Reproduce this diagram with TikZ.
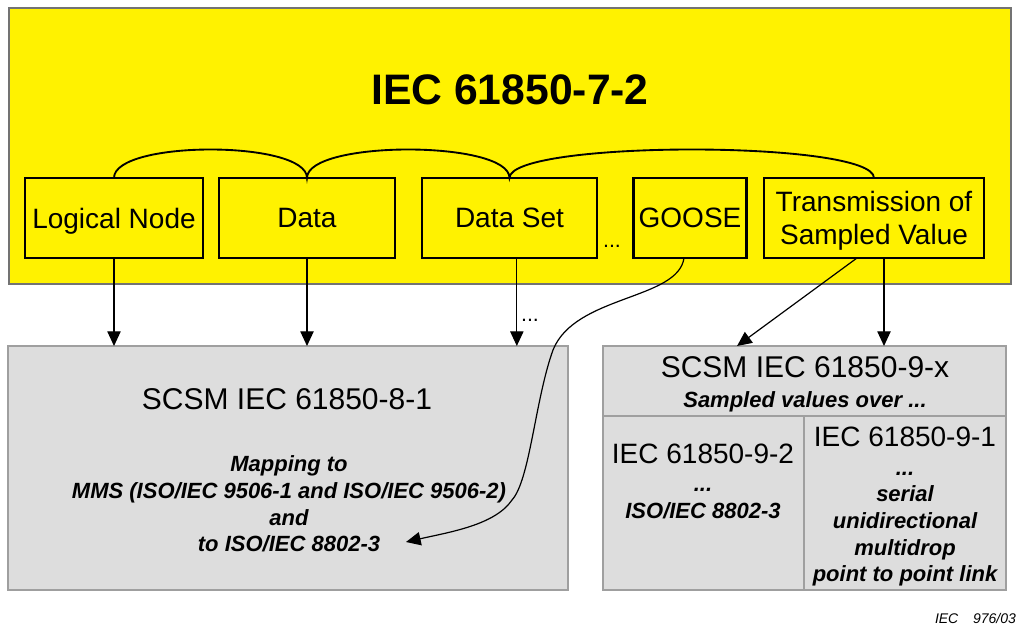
\documentclass[tikz,border=0pt]{standalone}
\usepackage{fontspec}
\setmainfont{Liberation Sans}
\usetikzlibrary{arrows.meta}

\begin{document}
\begin{tikzpicture}[
    x=0.75pt, y=-0.75pt,
    every node/.style  = {inner sep=0pt, outer sep=0pt},
    layer/.style       = {draw=gray!90!black, line width=1pt, fill=yellow},
    servbox/.style     = {draw=black, line width=2pt, fill=yellow, align=center, text depth=0pt,
                          font=\fontsize{21}{25}\selectfont},
    scsm/.style        = {draw=gray!75, line width=1.4pt, fill=gray!27},
    big/.style         = {font=\fontsize{22.5}{27}\selectfont},
    mid/.style         = {font=\fontsize{21}{25}\selectfont},
    note/.style        = {font=\fontsize{16.5}{20}\selectfont\bfseries\itshape, align=center},
    dots/.style        = {font=\fontsize{16}{20}\selectfont},
    map/.style         = {-{Triangle[length=11pt,width=10pt]}, line width=0.9pt}
    ]
  \useasboundingbox (0,0) rectangle (1021,627);

  % IEC 61850-7-2 layer ----------------------------------------
  \node[layer, minimum width=751.5pt, minimum height=207pt] (iec72) at (510,146) {};
  \node[font=\fontsize{32}{38}\selectfont\bfseries, anchor=base] (title) at (510,105) {IEC 61850-7-2};

  \node[servbox, minimum width=133.5pt, minimum height=60pt] (ln)    at (114,218)   {Logical Node};
  \node[servbox, minimum width=132pt,   minimum height=60pt] (data)  at (307,218)   {Data};
  \node[servbox, minimum width=131.25pt,minimum height=60pt] (dset)  at (509.5,218) {Data Set};
  \node[servbox, minimum width=85pt,    minimum height=60pt] (goose) at (690,218)   {GOOSE};
  \node[servbox, minimum width=165pt,   minimum height=60pt] (trans) at (874,218)   {Transmission of\\Sampled Value};
  \node[dots, anchor=base] (more) at (612,248) {...};

  \draw[line width=1.4pt] (ln.north) .. controls +(0,-38) and +(0,-38) .. (data.north)
                                     .. controls +(0,-38) and +(0,-38) .. (dset.north)
                                     .. controls +(0,-38) and +(0,-38) .. (trans.north);

  % SCSM 8-1 -----------------------------------------------------
  \node[scsm, minimum width=420pt, minimum height=183pt] (scsm81) at (288,468) {};
  \node[big, anchor=base] (t81) at (287,409) {SCSM IEC 61850-8-1};
  \node[note, anchor=base] (mapping) at (289,551.7)
       {Mapping to\\MMS (ISO/IEC 9506-1 and ISO/IEC 9506-2)\\and\\to ISO/IEC 8802-3};

  % SCSM 9-x -----------------------------------------------------
  \node[scsm, minimum width=302.25pt, minimum height=52.5pt]  (scsm9x) at (804.5,381) {};
  \node[scsm, minimum width=150.75pt, minimum height=130.5pt] (sv92)   at (703.5,503) {};
  \node[scsm, minimum width=151.5pt,  minimum height=130.5pt] (sv91)   at (905,503)   {};
  \node[big, anchor=base]  (t9x)    at (805,378) {SCSM IEC 61850-9-x};
  \node[note, anchor=base] (svover) at (805,407) {Sampled values over ...};
  \node[mid, anchor=base]  (t92)    at (703,463) {IEC 61850-9-2};
  \node[note, anchor=base] (n92)    at (703,518.3) {...\\ISO/IEC 8802-3};
  \node[mid, anchor=base]  (t91)    at (905,446) {IEC 61850-9-1};
  \node[note, anchor=base] (n91)    at (905,581.7)
       {...\\serial\\unidirectional\\multidrop\\point to point link};

  \node[font=\fontsize{10.5}{12}\selectfont\itshape, anchor=base west] (fig) at (935,623) {IEC\hspace{11pt}976/03};

  % mappings -----------------------------------------------------
  \coordinate (dsetout)  at ([xshift=5.5pt]dset.south);
  \coordinate (gooseout) at ([xshift=-4.5pt]goose.south);
  \coordinate (transl)   at ([xshift=-12.75pt]trans.south);
  \coordinate (transr)   at ([xshift=7.5pt]trans.south);
  \coordinate (mapend)   at (406,542);

  \draw[map] (ln.south) -- (ln.south |- scsm81.north);
  \draw[map] (data.south) -- (data.south |- scsm81.north);
  \draw[map] (dsetout) -- (dsetout |- scsm81.north);
  \node[dots, anchor=base] (moremap) at (530,321) {...};
  \draw[map] (gooseout) .. controls (678,300) and (575,295) .. (553,350)
                        .. controls (535,400) and (530,480) .. (512,500)
                        .. controls (495,525) and (450,532) .. (mapend);
  \draw[map] (transl) -- ([xshift=-50.6pt]scsm9x.north);
  \draw[map] (transr) -- (transr |- scsm9x.north);
\end{tikzpicture}
\end{document}
